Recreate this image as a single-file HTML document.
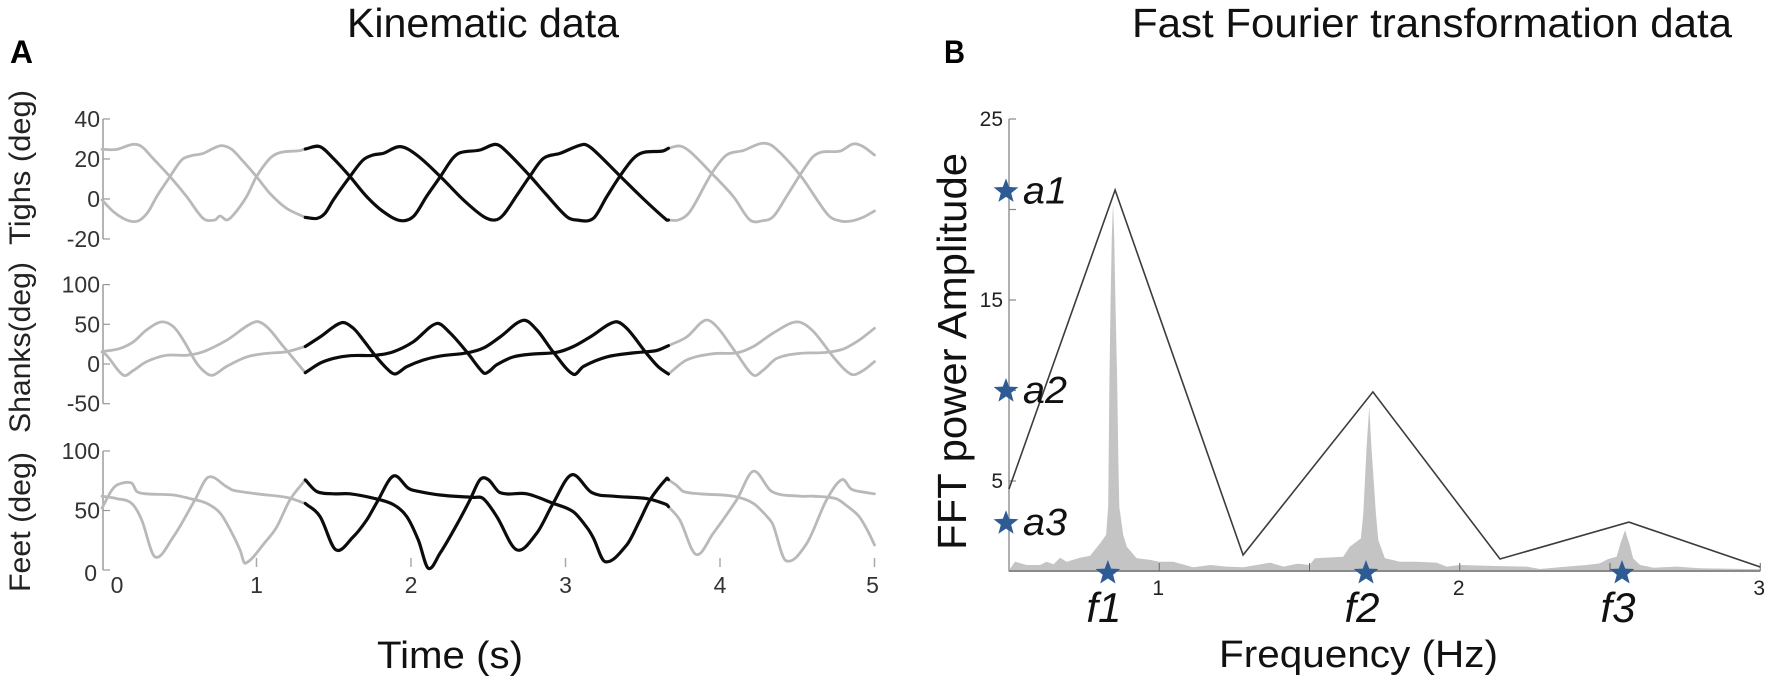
<!DOCTYPE html>
<html lang="en">
<head>
<meta charset="utf-8">
<title>Kinematic and FFT data</title>
<style>
html,body{margin:0;padding:0;background:#fff;width:1772px;height:682px;overflow:hidden}
svg{display:block;font-family:"Liberation Sans",sans-serif}
</style>
</head>
<body>
<svg id="figure" xmlns="http://www.w3.org/2000/svg" width="1772" height="682" viewBox="0 0 1772 682">
  <rect width="1772" height="682" fill="#fff"/>
  <text x="347" y="37" font-size="41" fill="#111" textLength="272" lengthAdjust="spacingAndGlyphs">Kinematic data</text>
  <text x="1132" y="37" font-size="41" fill="#111" textLength="600" lengthAdjust="spacingAndGlyphs">Fast Fourier transformation data</text>
  <text x="10" y="63" font-size="32" font-weight="bold" fill="#000" textLength="23" lengthAdjust="spacingAndGlyphs">A</text>
  <text x="944" y="63" font-size="32" font-weight="bold" fill="#000" textLength="21" lengthAdjust="spacingAndGlyphs">B</text>
  <text transform="translate(30,245) rotate(-90)" font-size="30" fill="#222" textLength="155" lengthAdjust="spacingAndGlyphs">Tighs (deg)</text>
  <text transform="translate(30,433) rotate(-90)" font-size="30" fill="#222" textLength="171" lengthAdjust="spacingAndGlyphs">Shanks(deg)</text>
  <text transform="translate(30,592) rotate(-90)" font-size="30" fill="#222" textLength="140" lengthAdjust="spacingAndGlyphs">Feet (deg)</text>
  <text x="377" y="668" font-size="38" fill="#111" textLength="146" lengthAdjust="spacingAndGlyphs">Time (s)</text>
  <text transform="translate(966,550) rotate(-90)" font-size="41" fill="#111" textLength="397" lengthAdjust="spacingAndGlyphs">FFT power Amplitude</text>
  <text x="1219" y="667" font-size="38" fill="#111" textLength="279" lengthAdjust="spacingAndGlyphs">Frequency (Hz)</text>
  <g id="left-panel"></g>
  <g id="right-panel"></g>
</svg>
<script>
// Panel A: kinematic data
const timeTicks = [0, 1, 2, 3, 4, 5];
const thighTicks = [40, 20, 0, -20];
const shankTicks = [100, 50, 0, -50];
const feetTicks = [100, 50, 0];
const highlightStart = 1.316;
const highlightEnd = 3.666;

const thighATimes = [0,.095,.2,.257,.33,.44,.548,.655,.73,.764,.807,.85,.936,1,1.087,1.152,1.28,1.316,1.41,1.497,1.605,1.713,1.82,1.93,2.015,2.1,2.19,2.27,2.32,2.447,2.544,2.597,2.77,2.878,3.008,3.07,3.18,3.267,3.353,3.44,3.505,3.63,3.664,3.74,3.806,3.946,4.087,4.194,4.28,4.345,4.43,4.518,4.6,4.66,4.78,4.86,4.92,5];
const thighAValues = [24.8,24.8,27.3,26.2,20.3,11.2,1.2,-9.7,-10.5,-8.5,-10.5,-8,1.2,11.2,20.3,23.2,24.2,25,26.2,20.3,11.2,1.2,-6.3,-10.8,-8.8,1.2,11.2,20.3,23.2,24.5,27.3,25.3,11.5,2,-8.8,-10.5,-9.7,1.2,11.5,20.3,23.3,24,25.3,26.5,23.7,12.8,1.2,-10.5,-10.8,-8.8,1.2,12,21,23.5,24,27.5,26.5,22];
const thighBTimes = [0,.073,.137,.2,.246,.3,.354,.44,.515,.57,.655,.72,.775,.84,.915,1,1.087,1.195,1.316,1.39,1.443,1.497,1.605,1.69,1.755,1.82,1.93,2.037,2.19,2.34,2.47,2.544,2.597,2.685,2.77,2.857,2.964,3.115,3.17,3.353,3.505,3.655,3.73,3.806,3.946,4.043,4.15,4.27,4.345,4.518,4.7,4.78,4.85,4.93,5];
const thighBValues = [-.5,-6.3,-9.7,-11.3,-10.5,-6.3,1.2,11.2,19.5,21.5,22.8,25.3,26.7,24.8,18.7,11.2,2.8,-4.7,-9.2,-9.7,-7.2,-.5,11.2,19.5,22,22.8,26.2,22,11.2,-.5,-8.8,-10.5,-8,1.8,11.5,20.3,22.8,27.3,25.3,11.5,0,-10.5,-10.5,-6.3,12.8,22,24.2,27.8,26.2,12,-8,-11,-11,-9,-6];

const shankATimes = [0,.117,.203,.289,.386,.462,.527,.613,.678,.721,.807,.937,1.066,1.195,1.316,1.411,1.551,1.627,1.692,1.767,1.843,1.897,1.972,2.08,2.188,2.36,2.468,2.576,2.727,2.814,2.921,3.051,3.116,3.267,3.44,3.59,3.666,3.784,3.903,3.979,4.108,4.216,4.281,4.367,4.518,4.68,4.8,4.9,5];
const shankAValues = [15.5,19.7,28,43,53,47,30,1,-12,-14,-3,9,13.4,15.5,22,34,52,45,30,11,-5.5,-12.6,-3.4,5,10,14,20,34,55,43,15,-13,-3,9,14,17,23,34,55,47,13,-14,-7.5,7,13.4,14.5,19,30,45];
const shankBTimes = [0,.03,.138,.203,.289,.419,.548,.656,.807,.99,1.066,1.174,1.316,1.411,1.497,1.605,1.767,1.886,2.015,2.166,2.253,2.36,2.468,2.5,2.555,2.663,2.792,2.943,3.051,3.159,3.32,3.396,3.526,3.6,3.666,3.784,3.957,4.108,4.216,4.345,4.496,4.6,4.75,4.85,4.92,5];
const shankBValues = [15,11,-14,-8,3,11,11,15.5,30,53,47,22,-11,1,7,10.5,11,15.5,28,51,39,15.5,-11,-10,-1,9,12.6,14.7,22,34,53,45,13,-3.4,-12.6,5,13,14,22,39,53,42,5,-13,-9,3];

const feetATimes = [0,.063,.106,.192,.225,.29,.462,.57,.678,.764,.829,.893,.926,1.066,1.13,1.217,1.314,1.39,1.497,1.605,1.767,1.886,1.972,2.048,2.112,2.188,2.296,2.382,2.447,2.5,2.576,2.749,2.921,3.05,3.137,3.18,3.256,3.396,3.482,3.547,3.655,3.687,3.72,3.763,3.87,4.087,4.216,4.324,4.346,4.425,4.56,4.69,4.79,4.85,4.95,5];
const feetAValues = [52,67,72,73,66,64,63,60,56,48,34,17,5.6,25,36,59,76,66,64,64,60,55,45,25,1.4,14,38,59,76,76,65,64,56,49,36,27,7,21,42,59,77,74,71,66,64,62,56,42,37,8,22,59,76,68,65,64];
const feetBTimes = [0,.095,.192,.257,.343,.462,.602,.688,.807,.85,1,1.195,1.316,1.411,1.513,1.627,1.713,1.78,1.886,1.98,2.015,2.188,2.404,2.468,2.555,2.684,2.814,2.92,3.04,3.17,3.31,3.525,3.655,3.74,3.845,3.957,4.108,4.216,4.335,4.518,4.6,4.75,4.83,4.9,4.96,5];
const feetBValues = [62,60,56,42,11,28,59,78,70,67,64,61,56,45,17,28,42,57,79,69,67,63,61,60,45,17,31,56,80,65,62,60,55,42,13,31,59,83,66,62,62,60,53,45,32,21];

// Panel B: FFT data
const freqTicks = [1, 2, 3];
const freqMinorTicks = [1, 1.5, 2, 2.5, 3];
const ampLabels = [25, 15, 5];
const ampTicks = [25, 20, 15, 10, 5];
const envelopeFreqs = [.5,.853,1.279,1.711,2.134,2.563,3];
const envelopeAmps = [4.56,21.08,.91,9.92,.69,2.73,.25];
const spectrumFreqs = [.5,.52,.559,.603,.625,.648,.67,.692,.736,.77,.803,.823,.83,.834,.838,.842,.846,.85,.854,.86,.864,.867,.88,.892,.925,.97,1,1.047,1.086,1.113,1.17,1.224,1.28,1.369,1.413,1.457,1.468,1.5,1.518,1.612,1.634,1.671,1.679,1.69,1.699,1.706,1.721,1.729,1.751,1.8,1.856,1.923,1.956,2,2.134,2.222,2.267,2.355,2.422,2.466,2.494,2.522,2.535,2.55,2.566,2.577,2.6,2.644,2.72,2.8,3];
const spectrumAmps = [.08,.54,.36,.36,.54,.4,.76,.54,.76,.87,1.56,2.02,3.58,10.5,15,18.5,20.36,18.5,15,10.5,6,3.58,2.02,1.37,.73,.64,.54,.54,.36,.23,.36,.27,.23,.49,.27,.42,.42,.36,.73,.82,1.37,1.83,3.21,6.9,9.11,6.9,3.21,1.74,.73,.54,.54,.49,.27,.36,.3,.27,.14,.27,.36,.45,.69,.82,1.56,2.29,1.46,.73,.36,.21,.27,.18,.12];
const peakFreqs = [.829,1.688,2.54];
const peakAmps = [21,9.97,2.67];
const freqPeakLabels = ['f1','f2','f3'];
const ampPeakLabels = ['a1','a2','a3'];

const NS = 'http://www.w3.org/2000/svg';
const left = document.getElementById('left-panel');
const right = document.getElementById('right-panel');

function make(parent, tag, attrs, text) {
  const el = document.createElementNS(NS, tag);
  for (const k in attrs) el.setAttribute(k, attrs[k]);
  if (text !== undefined) el.textContent = text;
  parent.appendChild(el);
  return el;
}
const xTime = t => 102 + 154.5 * t;
const yThigh = v => 199 - 2 * v;
const yShank = v => 364 - 0.794 * v;
const yFeet = v => 570 - 1.19 * v;
const xFreq = f => 1009 + 300.5 * (f - 0.5);
const yAmp = a => 571.5 - 18.1 * a;

function valueAt(ts, vs, t) {
  for (let i = 1; i < ts.length; i++) {
    if (t <= ts[i]) {
      const r = (t - ts[i - 1]) / (ts[i] - ts[i - 1]);
      return vs[i - 1] + r * (vs[i] - vs[i - 1]);
    }
  }
  return vs[vs.length - 1];
}
function smoothPath(pts) {
  let d = 'M' + pts[0][0].toFixed(1) + ' ' + pts[0][1].toFixed(1);
  for (let i = 0; i < pts.length - 1; i++) {
    const p0 = pts[Math.max(i - 1, 0)];
    const p1 = pts[i];
    const p2 = pts[i + 1];
    const p3 = pts[Math.min(i + 2, pts.length - 1)];
    const dx = p2[0] - p1[0];
    const s0 = (p2[1] - p0[1]) / Math.max(p2[0] - p0[0], 0.01);
    const s1 = (p3[1] - p1[1]) / Math.max(p3[0] - p1[0], 0.01);
    d += 'C' + (p1[0] + dx / 3).toFixed(1) + ' ' + (p1[1] + s0 * dx / 3).toFixed(1) + ' ' +
         (p2[0] - dx / 3).toFixed(1) + ' ' + (p2[1] - s1 * dx / 3).toFixed(1) + ' ' +
         p2[0].toFixed(1) + ' ' + p2[1].toFixed(1);
  }
  return d;
}
function segmentPath(ts, vs, a, b, yf) {
  const pts = [[xTime(a), yf(valueAt(ts, vs, a))]];
  ts.forEach((t, i) => { if (t > a + 0.004 && t < b - 0.004) pts.push([xTime(t), yf(vs[i])]); });
  pts.push([xTime(b), yf(valueAt(ts, vs, b))]);
  return smoothPath(pts);
}
function drawSeries(name, ts, vs, yf) {
  const parts = [[0, highlightStart, '#b9b9b9', 2.8, 'gray-start'], [highlightEnd, 5, '#b9b9b9', 2.8, 'gray-end'], [highlightStart, highlightEnd, '#0c0c0c', 3.2, 'black']];
  parts.forEach(p => {
    const el = make(left, 'path', {d: segmentPath(ts, vs, p[0], p[1], yf), fill: 'none', stroke: p[2], 'stroke-width': p[3], 'stroke-linejoin': 'round', 'stroke-linecap': 'round'});
    
    
  });
}
function drawYAxis(name, ticks, yf, parent) {
  const top = yf(ticks[0]);
  const bottom = yf(ticks[ticks.length - 1]);
  const axis = make(parent, 'line', {x1: 103, x2: 103, y1: top, y2: bottom, stroke: '#b5b5b5', 'stroke-width': 2});
  
  
  ticks.forEach(v => {
    const tick = make(parent, 'line', {x1: 103, x2: 110, y1: yf(v), y2: yf(v), stroke: '#999', 'stroke-width': 1.2});
    
    
    const isFeetZero = name === 'feet' && v === 0;
    const label = make(parent, 'text', {x: isFeetZero ? 97 : 100, y: yf(v) + (isFeetZero ? 11 : 8), 'text-anchor': 'end', 'font-size': 23, fill: '#333'}, String(v));
    
    
  });
}

drawYAxis('thighs', thighTicks, yThigh, left);
drawYAxis('shanks', shankTicks, yShank, left);
drawYAxis('feet', feetTicks, yFeet, left);

timeTicks.forEach(t => {
  if (t > 0) {
    const tick = make(left, 'line', {x1: xTime(t), x2: xTime(t), y1: 558, y2: 567, stroke: '#aaa', 'stroke-width': 1.5});
    
    
  }
  const label = make(left, 'text', {x: t === 0 ? 117 : xTime(t) - (t === 5 ? 2 : 0), y: 593, 'text-anchor': 'middle', 'font-size': 23, fill: '#333'}, String(t));
  
  
});

drawSeries('thigh-line-a', thighATimes, thighAValues, yThigh);
drawSeries('thigh-line-b', thighBTimes, thighBValues, yThigh);
drawSeries('shank-line-a', shankATimes, shankAValues, yShank);
drawSeries('shank-line-b', shankBTimes, shankBValues, yShank);
drawSeries('foot-line-a', feetATimes, feetAValues, yFeet);
drawSeries('foot-line-b', feetBTimes, feetBValues, yFeet);

// FFT panel
const areaPts = spectrumFreqs.map((f, i) => xFreq(f).toFixed(1) + ',' + yAmp(spectrumAmps[i]).toFixed(1));
areaPts.push(xFreq(3).toFixed(1) + ',' + yAmp(0).toFixed(1));
areaPts.push(xFreq(.5).toFixed(1) + ',' + yAmp(0).toFixed(1));
const area = make(right, 'polygon', {points: areaPts.join(' '), fill: '#c4c4c4', stroke: 'none'});



const yAxisB = make(right, 'line', {x1: 1009, x2: 1009, y1: yAmp(25), y2: yAmp(0), stroke: '#b0b0b0', 'stroke-width': 2});


const xAxisB = make(right, 'line', {x1: 1009, x2: xFreq(3), y1: 571, y2: 571, stroke: '#8a8a8a', 'stroke-width': 2});



ampTicks.forEach(a => {
  const tick = make(right, 'line', {x1: 1009, x2: 1016, y1: yAmp(a), y2: yAmp(a), stroke: '#888', 'stroke-width': 1.2});
  
  
});
ampLabels.forEach(a => {
  const label = make(right, 'text', {x: 1003, y: yAmp(a) + 7, 'text-anchor': 'end', 'font-size': 21, fill: '#222'}, String(a));
  
  
});
freqMinorTicks.forEach(f => {
  const tick = make(right, 'line', {x1: xFreq(f), x2: xFreq(f), y1: 563, y2: 571, stroke: '#666', 'stroke-width': 1});
  
  
});
freqTicks.forEach(f => {
  const label = make(right, 'text', {x: xFreq(f) - 1, y: 595, 'text-anchor': 'middle', 'font-size': 21, fill: '#222'}, String(f));
  
  
});

const envelope = make(right, 'polyline', {points: envelopeFreqs.map((f, i) => xFreq(f).toFixed(1) + ',' + yAmp(envelopeAmps[i]).toFixed(1)).join(' '), fill: 'none', stroke: '#3c3c3c', 'stroke-width': 1.6, 'stroke-linejoin': 'miter'});



function starPoints(cx, cy, r) {
  const pts = [];
  for (let i = 0; i < 10; i++) {
    const rad = i % 2 ? r * 0.42 : r;
    const ang = -Math.PI / 2 + i * Math.PI / 5;
    pts.push((cx + rad * Math.cos(ang)).toFixed(1) + ',' + (cy + rad * Math.sin(ang)).toFixed(1));
  }
  return pts.join(' ');
}
peakFreqs.forEach((f, i) => {
  const star = make(right, 'polygon', {points: starPoints(xFreq(f), 573, 13), fill: '#2f5b94'});
  
  
  const label = make(right, 'text', {x: xFreq(f) - 4, y: 622, 'text-anchor': 'middle', 'font-size': 42, 'font-style': 'italic', fill: '#111'}, freqPeakLabels[i]);
  
  
});
peakAmps.forEach((a, i) => {
  const star = make(right, 'polygon', {points: starPoints(1006, yAmp(a), 13), fill: '#2f5b94'});
  
  
  const label = make(right, 'text', {x: 1023, y: yAmp(a) + 12, 'font-size': 38, 'font-style': 'italic', fill: '#111', textLength: 44, lengthAdjust: 'spacingAndGlyphs'}, ampPeakLabels[i]);
  
  
});
</script>
</body>
</html>
